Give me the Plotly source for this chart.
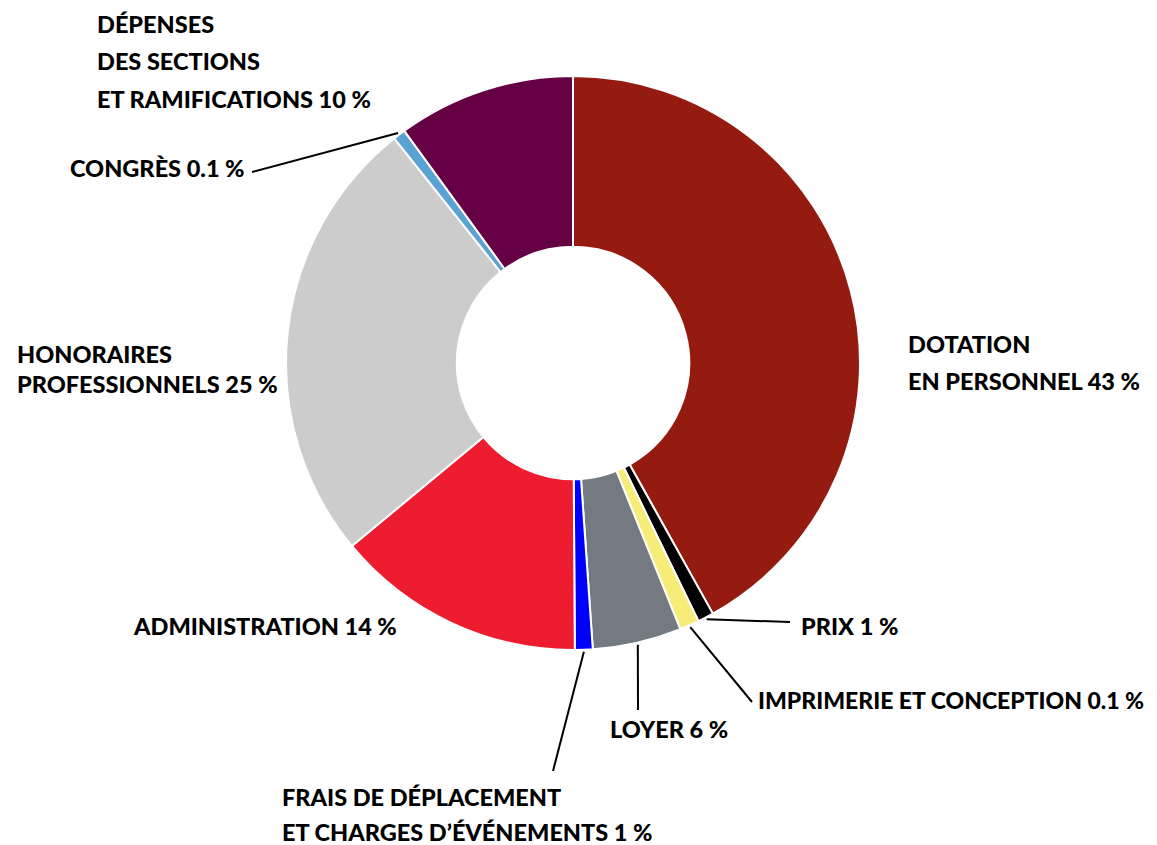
import math
import plotly.graph_objects as go

# ---- data ----
categories = [
    "DOTATION EN PERSONNEL",
    "PRIX",
    "IMPRIMERIE ET CONCEPTION",
    "LOYER",
    "FRAIS DE DÉPLACEMENT ET CHARGES D’ÉVÉNEMENTS",
    "ADMINISTRATION",
    "HONORAIRES PROFESSIONNELS",
    "CONGRÈS",
    "DÉPENSES DES SECTIONS ET RAMIFICATIONS",
]
values = [41.9, 0.9, 1.1, 5.0, 1.0, 14.1, 25.3, 0.7, 10.0]
colors = ["#951A0F", "#000000", "#F7EC78", "#737A80", "#0000FF",
          "#ED1C2E", "#CCCCCC", "#5AA2D2", "#660044"]

# label text lines (per category)
label_lines = [
    ["DOTATION", "EN PERSONNEL 43 %"],
    ["PRIX 1 %"],
    ["IMPRIMERIE ET CONCEPTION 0.1 %"],
    ["LOYER 6 %"],
    ["FRAIS DE DÉPLACEMENT", "ET CHARGES D’ÉVÉNEMENTS 1 %"],
    ["ADMINISTRATION 14 %"],
    ["HONORAIRES", "PROFESSIONNELS 25 %"],
    ["CONGRÈS 0.1 %"],
    ["DÉPENSES", "DES SECTIONS", "ET RAMIFICATIONS 10 %"],
]

# ---- layout geometry (page pixels) ----
PAGE_W, PAGE_H = 1157, 845
OFF = 8                      # default page body margin
W, H = PAGE_W - OFF, PAGE_H - OFF
CX, CY, R = 573, 363, 287
HOLE = 0.405

# label anchor (left x, center y of each line) in page pixels
label_pos = [
    (906, [344, 381]),
    (799, [626]),
    (756, [700]),
    (608, [729]),
    (280, [797, 832]),
    (131, [626]),
    (15, [354, 384]),
    (68, [168]),
    (95, [24, 61, 99]),
]
label_size = [23.5, 23.5, 23.0, 23.5, 23.5, 23.5, 23.5, 23.5, 23.5]
# leader line end points (page pixels); None = no leader line
leader_end = [None, (790, 622), (752, 702), (638, 710), (553, 771),
              None, None, (252, 172), None]


def px(x, y):
    return (x - OFF) / W, 1 - (y - OFF) / H


fig = go.Figure(go.Pie(
    labels=categories,
    values=values,
    marker=dict(colors=colors, line=dict(color="white", width=2)),
    hole=HOLE,
    sort=False,
    direction="clockwise",
    rotation=0,
    textinfo="none",
    hoverinfo="label+percent",
    showlegend=False,
    domain=dict(x=[px(CX - R, 0)[0], px(CX + R, 0)[0]],
                y=[px(0, CY + R)[1], px(0, CY - R)[1]]),
))

annotations = []
for lines, (lx, lys), fs in zip(label_lines, label_pos, label_size):
    for t, ly in zip(lines, lys):
        xp, yp = px(lx, ly)
        annotations.append(dict(
            x=xp, y=yp, xref="paper", yref="paper", text=t,
            showarrow=False, xanchor="left", yanchor="middle",
            font=dict(family="Lato, 'Open Sans', sans-serif", size=fs,
                      color="#000000", weight=900),
        ))

shapes = []
total = sum(values)
cum = 0.0
for v, end in zip(values, leader_end):
    mid = (cum + v / 2) / total * 2 * math.pi
    cum += v
    if end is None:
        continue
    r = R + 2
    sx = CX + r * math.sin(mid)
    sy = CY - r * math.cos(mid)
    x0, y0 = px(sx, sy)
    x1, y1 = px(*end)
    shapes.append(dict(type="line", xref="paper", yref="paper",
                       x0=x0, y0=y0, x1=x1, y1=y1,
                       line=dict(color="black", width=2)))

fig.update_layout(
    width=W, height=H,
    margin=dict(l=0, r=0, t=0, b=0),
    paper_bgcolor="white",
    plot_bgcolor="white",
    annotations=annotations,
    shapes=shapes,
)

fig.write_html("out.html")
